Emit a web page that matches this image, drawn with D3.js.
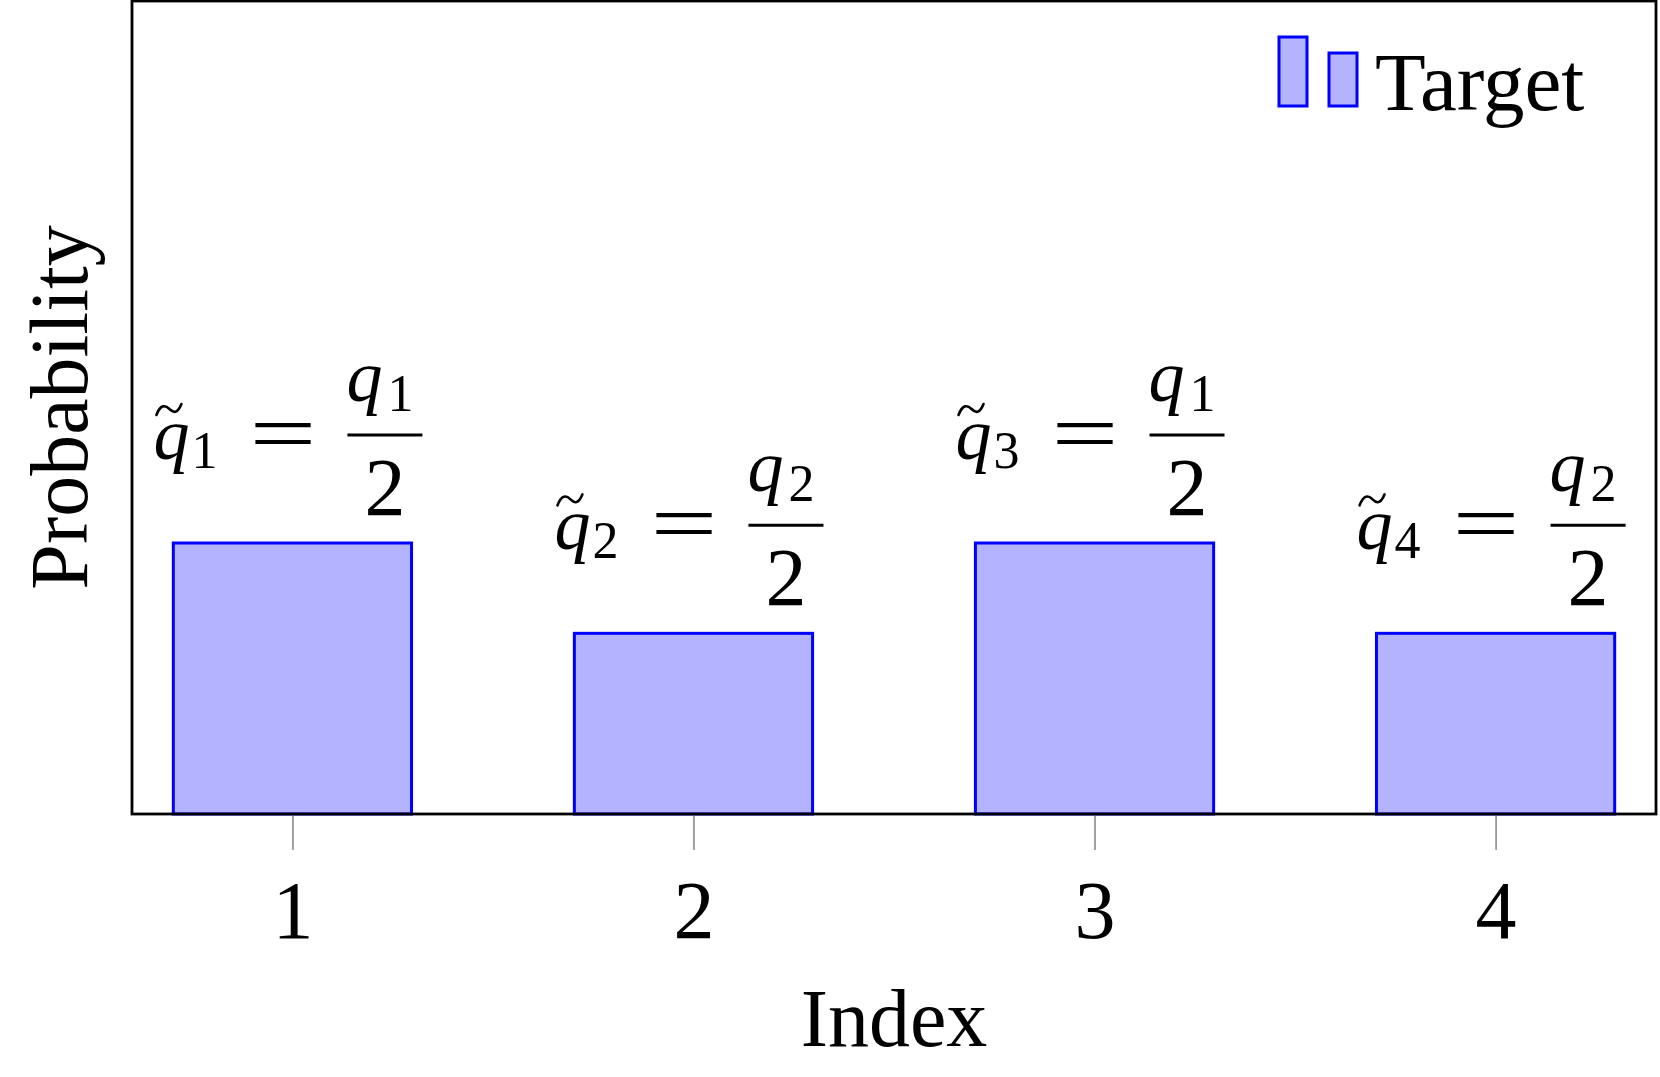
<!DOCTYPE html>
<html>
<head>
<meta charset="utf-8">
<script src="https://cdn.jsdelivr.net/npm/d3@7"></script>
<style>
  html, body { margin: 0; padding: 0; background: #fff; }
  svg { display: block; }
</style>
</head>
<body>
<svg id="chart" width="1660" height="1077"></svg>
<script>
// ---- data ----
const categories = [1, 2, 3, 4];
const values = [0.3, 0.2, 0.3, 0.2];            // q~_i = q_j / 2
const labelIndex = ["1", "2", "3", "4"];        // subscript of q~
const numeratorIndex = ["1", "2", "1", "2"];    // subscript of q in numerator
const xTickLabels = ["1", "2", "3", "4"];
const seriesName = "Target";
const xTitle = "Index";
const yTitle = "Probability";

// ---- layout ----
const plot = { left: 132, right: 1656, top: 1, bottom: 814 };
const fillColor = "#b3b3ff", strokeColor = "#0000ff";
const serif = "'Liberation Serif', 'Times New Roman', serif";

const svg = d3.select("#chart");

const x = d3.scaleLinear().domain([0.6, 4.4]).range([plot.left, plot.right]);
const y = d3.scaleLinear().domain([0, 0.9]).range([plot.bottom, plot.top]);
const barHalf = 0.297;

// bars
svg.append("g").selectAll("rect").data(categories).join("rect")
  .attr("x", d => x(d - barHalf))
  .attr("width", d => x(d + barHalf) - x(d - barHalf))
  .attr("y", (d, i) => y(values[i]))
  .attr("height", (d, i) => y(0) - y(values[i]))
  .attr("fill", fillColor)
  .attr("stroke", strokeColor)
  .attr("stroke-width", 3);

// x axis ticks (gray, outside)
const xAxis = d3.axisBottom(x).tickValues(categories).tickSize(36).tickPadding(30)
  .tickFormat((d, i) => xTickLabels[i]);
const gx = svg.append("g").attr("transform", `translate(0,${plot.bottom})`).call(xAxis);
gx.select(".domain").remove();
gx.selectAll(".tick line").attr("stroke", "#8c8c8c").attr("stroke-width", 1.6);
gx.selectAll(".tick text").attr("font-family", serif).attr("font-size", 82)
  .attr("fill", "#000").attr("dy", "0.71em");

// frame
svg.append("rect")
  .attr("x", plot.left).attr("y", plot.top)
  .attr("width", plot.right - plot.left).attr("height", plot.bottom - plot.top)
  .attr("fill", "none").attr("stroke", "#000").attr("stroke-width", 2.8);

// axis titles
svg.append("text").text(xTitle)
  .attr("x", (plot.left + plot.right) / 2).attr("y", 1046)
  .attr("text-anchor", "middle").attr("font-family", serif).attr("font-size", 82);
svg.append("text").text(yTitle)
  .attr("transform", `translate(87,${(plot.top + plot.bottom) / 2}) rotate(-90)`)
  .attr("text-anchor", "middle").attr("font-family", serif).attr("font-size", 82);

// nodes near coords: q~_i = q_j / 2
const labels = svg.append("g").selectAll("g").data(categories).join("g")
  .attr("transform", (d, i) => `translate(${x(d)},${y(values[i])})`);

labels.append("text").text("q")
  .attr("x", -139).attr("y", -84)
  .attr("font-family", serif).attr("font-style", "italic").attr("font-size", 72);
labels.append("path")
  .attr("d", "M-136,-128 C-132,-139 -127,-138 -123,-134 C-119,-130 -115,-129 -111,-139")
  .attr("fill", "none").attr("stroke", "#000").attr("stroke-width", 2.6).attr("stroke-linecap", "round");
labels.append("text").text((d, i) => labelIndex[i])
  .attr("x", -101).attr("y", -75)
  .attr("font-family", serif).attr("font-size", 52);
labels.append("text").text("=")
  .attr("x", -43).attr("y", -82)
  .attr("textLength", 67).attr("lengthAdjust", "spacingAndGlyphs")
  .attr("font-family", serif).attr("font-size", 82);
labels.append("text").text("q")
  .attr("x", 54).attr("y", -142)
  .attr("font-family", serif).attr("font-style", "italic").attr("font-size", 72);
labels.append("text").text((d, i) => numeratorIndex[i])
  .attr("x", 95).attr("y", -132)
  .attr("font-family", serif).attr("font-size", 52);
labels.append("line")
  .attr("x1", 55).attr("x2", 130).attr("y1", -108).attr("y2", -108)
  .attr("stroke", "#000").attr("stroke-width", 3);
labels.append("text").text("2")
  .attr("x", 92.5).attr("y", -28).attr("text-anchor", "middle")
  .attr("font-family", serif).attr("font-size", 82);

// legend
const lg = svg.append("g").attr("transform", "translate(1279,106)");
lg.append("rect").attr("x", 0).attr("y", -69).attr("width", 28).attr("height", 69)
  .attr("fill", fillColor).attr("stroke", strokeColor).attr("stroke-width", 3);
lg.append("rect").attr("x", 50).attr("y", -53).attr("width", 28).attr("height", 53)
  .attr("fill", fillColor).attr("stroke", strokeColor).attr("stroke-width", 3);
lg.append("text").text(seriesName)
  .attr("x", 96).attr("y", 4)
  .attr("font-family", serif).attr("font-size", 83);
</script>
</body>
</html>
